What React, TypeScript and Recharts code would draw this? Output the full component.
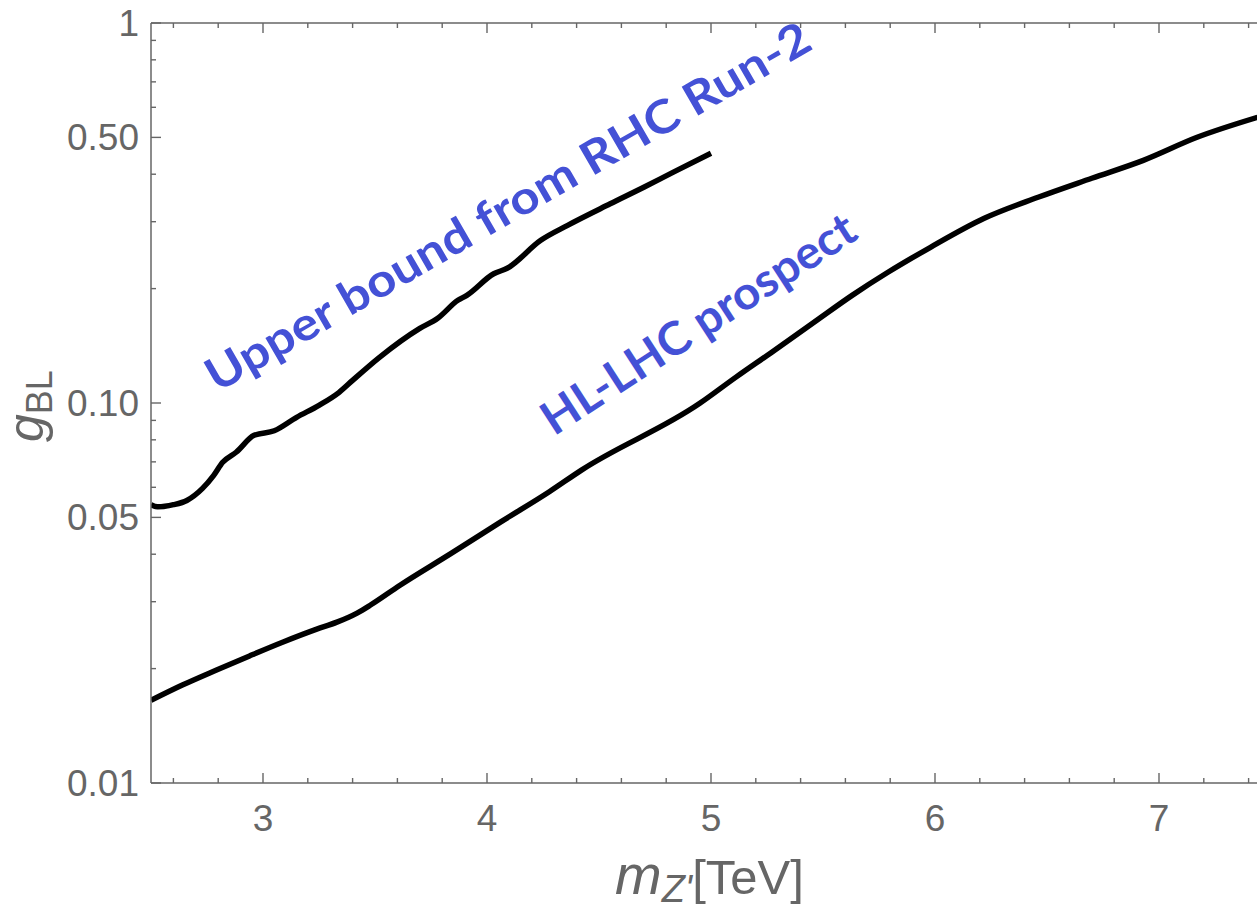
import React from 'react';
import { LineChart, Line, XAxis, YAxis, ReferenceDot } from 'recharts';

// ─────────────────────────────────────────────────────────────────────────────
// Data
// ─────────────────────────────────────────────────────────────────────────────

const upperMass = [
  2.5, 2.53, 2.6, 2.66, 2.73, 2.78, 2.82, 2.88, 2.96, 3.05, 3.15, 3.25, 3.34, 3.4,
  3.52, 3.7, 3.78, 3.87, 3.91, 4.03, 4.09, 4.24, 4.36, 4.55, 4.7, 4.83, 5.0,
];
const upperCoupling = [
  0.054, 0.0533, 0.054, 0.0554, 0.0596, 0.0645, 0.0698, 0.0742, 0.0822, 0.0845,
  0.0917, 0.0986, 0.1067, 0.1147, 0.1319, 0.1572, 0.1671, 0.1863, 0.192, 0.2188,
  0.2262, 0.2681, 0.2935, 0.3343, 0.3695, 0.4046, 0.4542,
];

const lowerMass = [
  2.5, 2.64, 2.79, 2.94, 3.09, 3.24, 3.33, 3.42, 3.48, 3.61, 3.84, 4.06, 4.28, 4.42,
  4.95, 5.11, 5.27, 5.46, 5.63, 5.79, 5.98, 6.22, 6.46, 6.7, 6.93, 7.17, 7.44,
];
const lowerCoupling = [
  0.0165, 0.0181, 0.0198, 0.0216, 0.0235, 0.0254, 0.0265, 0.028, 0.0294, 0.0331,
  0.0402, 0.0486, 0.0585, 0.0665, 0.0998, 0.1168, 0.1359, 0.1631, 0.192, 0.2208,
  0.2569, 0.3062, 0.3478, 0.3903, 0.4351, 0.5003, 0.5647,
];

const xMajorTicks = [3, 4, 5, 6, 7];
const xMinorTicks = [
  2.6, 2.8, 3.2, 3.4, 3.6, 3.8, 4.2, 4.4, 4.6, 4.8, 5.2, 5.4, 5.6, 5.8, 6.2, 6.4,
  6.6, 6.8, 7.2, 7.4,
];
const yMajorTicks = [0.01, 0.05, 0.1, 0.5, 1];
const yMajorLabels = ['0.01', '0.05', '0.10', '0.50', '1'];
const yMinorTicks = [
  0.02, 0.03, 0.04, 0.06, 0.07, 0.08, 0.09, 0.2, 0.3, 0.4, 0.6, 0.7, 0.8, 0.9,
];

const upperData = upperMass.map((m, i) => ({ m, g: upperCoupling[i] }));
const lowerData = lowerMass.map((m, i) => ({ m, g: lowerCoupling[i] }));

// ─────────────────────────────────────────────────────────────────────────────
// Styling
// ─────────────────────────────────────────────────────────────────────────────

const GRAY = '#666666';
const BLUE = '#4451D6';
const AXIS_FONT = '"Liberation Sans", Arial, sans-serif';
const LABEL_FONT = 'Lato, "Open Sans", sans-serif';

// Ticks point into the frame, Mathematica style.
function BottomTick(props: any) {
  const { x, y, payload } = props;
  const major = xMajorTicks.includes(payload.value);
  return (
    <g>
      <line x1={x} y1={y} x2={x} y2={y - (major ? 10 : 5)} stroke={GRAY} strokeWidth={1.4} />
      {major && (
        <text x={x} y={y + 48} textAnchor="middle" fill={GRAY} fontFamily={AXIS_FONT} fontSize={37}>
          {payload.value}
        </text>
      )}
    </g>
  );
}

function TopTick(props: any) {
  const { x, y, payload } = props;
  const major = xMajorTicks.includes(payload.value);
  return <line x1={x} y1={y} x2={x} y2={y + (major ? 10 : 5)} stroke={GRAY} strokeWidth={1.4} />;
}

function LeftTick(props: any) {
  const { x, y, payload } = props;
  const idx = yMajorTicks.indexOf(payload.value);
  const major = idx >= 0;
  return (
    <g>
      <line x1={x} y1={y} x2={x + (major ? 10 : 5)} y2={y} stroke={GRAY} strokeWidth={1.4} />
      {major && (
        <text x={x - 12} y={y + 13} textAnchor="end" fill={GRAY} fontFamily={AXIS_FONT} fontSize={37}>
          {yMajorLabels[idx]}
        </text>
      )}
    </g>
  );
}

// note: recharts' Label passes its own `angle`, so use `tilt` here
function Annotation(props: any) {
  const { viewBox, caption, tilt, span } = props;
  const { x, y } = viewBox;
  return (
    <text
      x={x}
      y={y}
      transform={`rotate(${-tilt} ${x} ${y})`}
      textAnchor="middle"
      dominantBaseline="central"
      fill={BLUE}
      fontFamily={LABEL_FONT}
      fontWeight={700}
      fontSize={46}
      textLength={span}
      lengthAdjust="spacingAndGlyphs"
    >
      {caption}
    </text>
  );
}

// ─────────────────────────────────────────────────────────────────────────────
// Component
// ─────────────────────────────────────────────────────────────────────────────

export default function App() {
  return (
    <div
      style={{
        position: 'absolute',
        left: 0,
        top: 0,
        width: 1257,
        height: 911,
        overflow: 'hidden',
        background: '#fff',
      }}
    >
      <LineChart width={1300} height={911} margin={{ top: 22, right: 29, bottom: 0, left: 0 }}>
        <XAxis
          dataKey="m"
          type="number"
          domain={[2.5, 7.5]}
          allowDataOverflow
          ticks={[...xMajorTicks, ...xMinorTicks]}
          interval={0}
          height={128}
          tickSize={0}
          tickMargin={0}
          tickLine={false}
          axisLine={{ stroke: GRAY, strokeWidth: 1.5 }}
          tick={(p: any) => <BottomTick {...p} />}
        />
        <XAxis
          xAxisId="top"
          orientation="top"
          dataKey="m"
          type="number"
          domain={[2.5, 7.5]}
          allowDataOverflow
          ticks={[...xMajorTicks, ...xMinorTicks]}
          interval={0}
          height={1}
          tickSize={0}
          tickMargin={0}
          tickLine={false}
          axisLine={{ stroke: GRAY, strokeWidth: 1.5 }}
          tick={(p: any) => <TopTick {...p} />}
        />
        <YAxis
          type="number"
          scale="log"
          domain={[0.01, 1]}
          allowDataOverflow
          ticks={[...yMajorTicks, ...yMinorTicks]}
          interval={0}
          width={151}
          tickSize={0}
          tickMargin={0}
          tickLine={false}
          axisLine={{ stroke: GRAY, strokeWidth: 1.5 }}
          tick={(p: any) => <LeftTick {...p} />}
        />
        <Line
          data={upperData}
          dataKey="g"
          type="monotone"
          stroke="#000"
          strokeWidth={5.5}
          dot={false}
          isAnimationActive={false}
        />
        <Line
          data={lowerData}
          dataKey="g"
          type="monotone"
          stroke="#000"
          strokeWidth={5.5}
          dot={false}
          isAnimationActive={false}
        />
        <ReferenceDot
          x={4.09}
          y={0.331}
          r={0}
          fill="none"
          stroke="none"
          label={<Annotation caption="Upper bound from RHC Run-2" tilt={30} span={690} />}
        />
        <ReferenceDot
          x={4.94}
          y={0.163}
          r={0}
          fill="none"
          stroke="none"
          label={<Annotation caption="HL-LHC prospect" tilt={33} span={365} />}
        />
      </LineChart>
      <svg
        width={1257}
        height={911}
        style={{ position: 'absolute', left: 0, top: 0, pointerEvents: 'none' }}
      >
        <text x={615} y={894} fill={GRAY} fontFamily={AXIS_FONT}>
          <tspan fontStyle="italic" fontSize={56}>m</tspan>
          <tspan fontStyle="italic" fontSize={38} dy={8}>Z'</tspan>
          <tspan fontSize={49} dy={-8}>[TeV]</tspan>
        </text>
        <text transform="translate(43, 442) rotate(-90)" fill={GRAY} fontFamily={AXIS_FONT}>
          <tspan fontStyle="italic" fontSize={50}>g</tspan>
          <tspan fontSize={36} dy={9}>BL</tspan>
        </text>
      </svg>
    </div>
  );
}
